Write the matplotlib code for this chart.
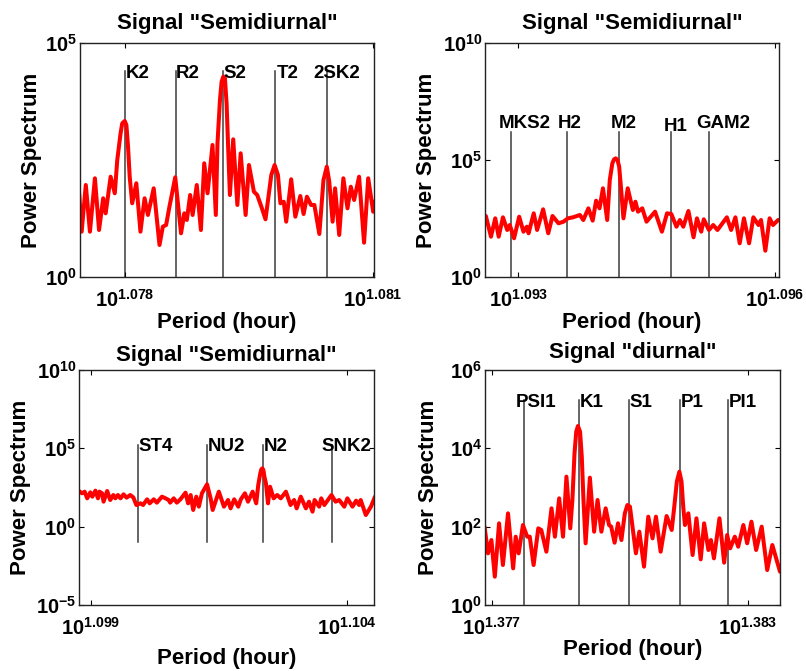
import numpy as np
import matplotlib
matplotlib.use("Agg")
import matplotlib.pyplot as plt
from matplotlib.ticker import NullLocator

# ---------------- data (log10 of period in hours, log10 of power) ----------------
# Panel 1: semidiurnal (K2 ... 2SK2)
p1_logper = [1.07745, 1.07748, 1.07753, 1.07758, 1.07764, 1.07769, 1.07774, 1.07777,
             1.07783, 1.07788, 1.07791, 1.07795, 1.07797, 1.07800, 1.07802, 1.07804,
             1.07806, 1.07809, 1.07814, 1.07819, 1.07824, 1.07828,
             1.07835, 1.07842, 1.07846, 1.07850, 1.07854, 1.07861, 1.07868, 1.07872,
             1.07875, 1.07879, 1.07882, 1.07887, 1.07892, 1.07896, 1.07900, 1.07906,
             1.07910, 1.07912, 1.07915, 1.07917, 1.07919, 1.07921, 1.07923, 1.07925,
             1.07927, 1.07931, 1.07936, 1.07940, 1.07946, 1.07950,
             1.07956, 1.07960, 1.07965, 1.07970, 1.07977, 1.07981, 1.07985, 1.07988,
             1.07992, 1.07995, 1.08001, 1.08006, 1.08012, 1.08016, 1.08020, 1.08025,
             1.08029, 1.08035, 1.08040, 1.08044, 1.08047, 1.08051, 1.08054, 1.08059,
             1.08064, 1.08069, 1.08073, 1.08077, 1.08083, 1.08089, 1.08094, 1.08100,
             1.08103]
p1_logpow = [1.789, 0.968, 1.966, 0.968, 2.109, 1.004, 1.682, 1.361,
             2.143, 1.789, 2.500, 3.070, 3.284, 3.334, 3.248, 2.785,
             2.144, 1.575, 2.002, 0.968, 1.682, 1.325,
             1.895, 0.684, 1.075, 1.111, 1.502, 2.130, 0.934, 1.361,
             1.218, 1.752, 1.325, 1.966, 1.004, 2.430, 1.789, 2.821,
             1.325, 2.856, 3.782, 4.174, 4.281, 4.245, 3.711, 2.714,
             1.752, 2.942, 1.539, 2.643, 1.325, 2.393,
             1.823, 1.752, 1.502, 1.233, 2.180, 2.393, 2.180, 1.575,
             1.609, 1.182, 2.088, 1.289, 1.731, 1.346, 1.716, 1.539,
             1.539, 0.919, 2.073, 2.357, 2.037, 1.182, 1.895, 0.898,
             2.109, 1.468, 1.930, 1.645, 2.143, 0.733, 2.109, 1.395,
             1.645]
p1_names = ["K2", "R2", "S2", "T2", "2SK2"]
p1_name_logper = [1.07800, 1.07862, 1.07919, 1.07982, 1.08044]

# Panel 2: semidiurnal (MKS2 ... GAM2)
p2_logper = [1.09262, 1.09268, 1.09273, 1.09277, 1.09282, 1.09287, 1.09290, 1.09295,
             1.09301, 1.09306, 1.09310, 1.09312, 1.09318, 1.09322, 1.09329, 1.09335,
             1.09340, 1.09347, 1.09353, 1.09358, 1.09364, 1.09372, 1.09376, 1.09382,
             1.09387, 1.09391, 1.09395, 1.09399, 1.09404, 1.09407, 1.09410, 1.09412,
             1.09414, 1.09416, 1.09418, 1.09420,
             1.09423, 1.09428, 1.09434, 1.09437, 1.09440, 1.09445, 1.09450, 1.09460,
             1.09468, 1.09474, 1.09479, 1.09485, 1.09489, 1.09493, 1.09499, 1.09505,
             1.09509, 1.09514, 1.09517, 1.09523, 1.09528, 1.09533, 1.09544, 1.09549,
             1.09554, 1.09559, 1.09564, 1.09570, 1.09575, 1.09581, 1.09584, 1.09589,
             1.09594, 1.09598, 1.09604]
p2_logpow = [2.607, 1.722, 2.508, 1.722, 2.551, 2.009, 2.222, 1.654,
             2.577, 1.936, 2.150, 1.868, 2.722, 2.009, 2.893, 1.868,
             2.607, 2.295, 2.365, 2.508, 2.551, 2.650, 2.436, 2.935,
             2.408, 3.262, 2.935, 3.790, 2.436, 4.145, 4.858, 5.028,
             5.071, 5.000, 4.715, 3.860,
             2.508, 3.790, 2.863, 3.218, 2.791, 2.935, 2.365, 2.791,
             1.936, 2.722, 2.692, 2.150, 2.436, 2.150, 2.821, 1.697,
             2.508, 1.936, 2.465, 2.009, 2.222, 2.009, 2.551, 2.009,
             2.551, 1.440, 2.508, 1.440, 2.551, 2.222, 2.436, 1.124,
             2.508, 2.222, 2.436]
p2_names = ["MKS2", "H2", "M2", "H1", "GAM2"]
p2_name_logper = [1.09292, 1.09357, 1.09418, 1.09479, 1.09523]

# Panel 3: semidiurnal (ST4 ... SNK2)
p3_logper = [1.09876, 1.09883, 1.09888, 1.09893, 1.09899, 1.09903, 1.09909, 1.09914,
             1.09917, 1.09922, 1.09925, 1.09932, 1.09938, 1.09944, 1.09948, 1.09953,
             1.09958, 1.09964, 1.09970, 1.09977, 1.09983, 1.09989, 1.09997, 1.10002,
             1.10010, 1.10015, 1.10023, 1.10029, 1.10039, 1.10046, 1.10052, 1.10055,
             1.10062, 1.10068, 1.10075, 1.10085, 1.10090, 1.10095, 1.10100, 1.10106,
             1.10111, 1.10117, 1.10127, 1.10134, 1.10138, 1.10150, 1.10160, 1.10168,
             1.10173, 1.10180, 1.10188, 1.10193, 1.10201, 1.10207, 1.10216, 1.10223,
             1.10227, 1.10231, 1.10233, 1.10235, 1.10237, 1.10239, 1.10242, 1.10246,
             1.10250, 1.10257, 1.10264, 1.10271,
             1.10281, 1.10290, 1.10297, 1.10302, 1.10310, 1.10320, 1.10326, 1.10333,
             1.10337, 1.10346, 1.10350, 1.10356, 1.10370, 1.10378, 1.10385, 1.10395,
             1.10401, 1.10411, 1.10418, 1.10424, 1.10427, 1.10437, 1.10447, 1.10455]
p3_logpow = [2.298, 2.128, 2.234, 1.808, 2.191, 1.915, 2.298, 1.808,
             2.234, 2.128, 1.596, 2.277, 1.702, 2.021, 1.808, 2.021,
             1.808, 2.064, 1.851, 2.021, 1.872, 1.383, 1.489, 1.383,
             1.745, 1.489, 1.745, 1.532, 1.915, 1.808, 1.702, 1.532,
             1.808, 1.532, 1.745, 2.170, 1.489, 2.021, 1.064, 1.915,
             1.277, 2.128, 2.702, 1.808, 1.064, 2.234, 1.277, 1.702,
             1.170, 1.745, 1.277, 1.745, 2.128, 1.596, 2.234, 1.489,
             2.660, 3.404, 3.660, 3.723, 3.617, 3.191, 2.766, 1.489,
             2.553, 1.808, 2.021, 1.808,
             2.234, 1.383, 1.702, 1.170, 1.915, 1.170, 1.596, 0.957,
             1.702, 1.277, 1.808, 1.383, 2.021, 1.596, 1.702, 1.277,
             1.808, 1.277, 1.660, 1.383, 1.702, 0.745, 1.277, 1.915]
p3_names = ["ST4", "NU2", "N2", "SNK2"]
p3_name_logper = [1.09992, 1.10126, 1.10237, 1.10371]

# Panel 4: diurnal (PSI1 ... PI1)
p4_logper = [1.37683, 1.37691, 1.37699, 1.37707, 1.37717, 1.37726, 1.37738, 1.37750,
             1.37756, 1.37763, 1.37773, 1.37783, 1.37789, 1.37798, 1.37809, 1.37816,
             1.37828, 1.37840, 1.37848, 1.37858, 1.37867, 1.37875, 1.37884, 1.37889,
             1.37894, 1.37898, 1.37902, 1.37907, 1.37911, 1.37915,
             1.37920, 1.37930, 1.37940, 1.37948, 1.37957, 1.37967, 1.37975, 1.37980,
             1.37988, 1.37996, 1.38004, 1.38012, 1.38018, 1.38024, 1.38030, 1.38038,
             1.38046, 1.38057, 1.38067, 1.38077, 1.38085, 1.38096, 1.38110, 1.38122,
             1.38128, 1.38134, 1.38140, 1.38145, 1.38149, 1.38153,
             1.38161, 1.38171, 1.38180, 1.38190, 1.38198, 1.38208, 1.38214, 1.38221,
             1.38234, 1.38245, 1.38252, 1.38259, 1.38270, 1.38278, 1.38290, 1.38299,
             1.38309, 1.38320, 1.38333, 1.38346, 1.38358, 1.38376]
p4_logpow = [2.000, 1.319, 1.659, 0.723, 2.085, 1.021, 2.340, 0.936,
             1.744, 1.319, 2.042, 1.744, 1.744, 1.021, 1.957, 1.915,
             1.361, 2.468, 1.744, 2.723, 1.744, 3.277, 1.957, 2.681,
             3.872, 4.425, 4.570, 4.425, 3.787, 2.681,
             1.574, 3.251, 1.872, 2.681, 1.872, 2.468, 2.042, 2.000,
             1.591, 2.085, 1.659, 2.340, 2.553, 2.511, 2.000, 1.319,
             1.872, 0.979, 2.255, 1.702, 2.255, 1.361, 2.272, 1.915,
             2.511, 3.149, 3.404, 3.149, 2.511, 2.042,
             2.340, 1.276, 2.213, 1.166, 2.085, 1.404, 1.659, 1.191,
             2.213, 1.081, 1.787, 1.447, 1.744, 1.489, 2.042, 1.574,
             2.127, 1.404, 2.000, 0.893, 1.532, 0.851]
p4_names = ["PSI1", "K1", "S1", "P1", "PI1"]
p4_name_logper = [1.37776, 1.37904, 1.38021, 1.38141, 1.38255]

# ---------------- style ----------------
plt.rcParams["font.family"] = ["Liberation Sans", "DejaVu Sans"]
plt.rcParams["font.weight"] = "bold"
plt.rcParams["mathtext.fontset"] = "custom"
plt.rcParams["mathtext.rm"] = "Liberation Sans:bold"
plt.rcParams["mathtext.bf"] = "Liberation Sans:bold"
plt.rcParams["mathtext.it"] = "Liberation Sans:bold"
plt.rcParams["mathtext.default"] = "bf"

fig = plt.figure(figsize=(8.06, 6.71), dpi=100)
W, H = 806.0, 671.0


def make_ax(l, r, t, b):
    return fig.add_axes([l / W, 1 - b / H, (r - l) / W, (b - t) / H])


panels = [
    dict(box=(80, 374, 43, 277), logper=p1_logper, logpow=p1_logpow,
         names=p1_names, name_logper=p1_name_logper,
         xlim=(1.07746, 1.08101), xt=(1.078, 1.081), xtl=("1.078", "1.081"),
         ylim=(0, 5), yt=(0, 5), line=(0, 4.4),
         offs=[(1, -7), (0, -7), (0, -7), (1, -7), (-13, -7)],
         title='Signal "Semidiurnal"', tpad=10.0, ylx=-0.129, xly=-0.218),
    dict(box=(485, 779, 43, 277), logper=p2_logper, logpow=p2_logpow,
         names=p2_names, name_logper=p2_name_logper,
         xlim=(1.09261, 1.09605), xt=(1.093, 1.096), xtl=("1.093", "1.096"),
         ylim=(0, 10), yt=(0, 5, 10), line=(0, 6.2),
         offs=[(-13, 4), (-9, 4), (-8, 4), (-8, 1), (-13, 4)],
         title='Signal "Semidiurnal"', tpad=10.0, ylx=-0.164, xly=-0.218),
    dict(box=(79, 374, 370, 605), logper=p3_logper, logpow=p3_logpow,
         names=p3_names, name_logper=p3_name_logper,
         xlim=(1.09877, 1.10453), xt=(1.099, 1.104), xtl=("1.099", "1.104"),
         ylim=(-5, 10), yt=(-5, 0, 5, 10), line=(-1, 5.2),
         offs=[(1, -6), (1, -6), (0, -6), (-11, -6)],
         title='Signal "Semidiurnal"', tpad=6.5, ylx=-0.163, xly=-0.251),
    dict(box=(485, 780, 370, 605), logper=p4_logper, logpow=p4_logpow,
         names=p4_names, name_logper=p4_name_logper,
         xlim=(1.37684, 1.38376), xt=(1.377, 1.383), xtl=("1.377", "1.383"),
         ylim=(0, 6), yt=(0, 2, 4, 6), line=(0, 5.23),
         offs=[(-8, -7), (1, -7), (1, -7), (1, -7), (0, -7)],
         title='Signal "diurnal"', tpad=8.3, ylx=-0.157, xly=-0.213),
]

for p in panels:
    ax = make_ax(*p["box"])
    ax.set_xscale("log")
    ax.set_yscale("log")
    per = 10.0 ** np.array(p["logper"])
    pw = 10.0 ** np.array(p["logpow"])

    # constituent marker lines
    ylo, yhi = 10.0 ** p["line"][0], 10.0 ** p["line"][1]
    for name, lp, (dx, dy) in zip(p["names"], p["name_logper"], p["offs"]):
        x = 10.0 ** lp
        ax.plot([x, x], [ylo, yhi], color="#3c3c3c", lw=1.1, zorder=1)
        ax.annotate(name, xy=(x, yhi), xytext=(dx * 0.72, dy * 0.72),
                    textcoords="offset points", ha="left", va="baseline",
                    fontsize=13.5, fontweight="bold", color="black", zorder=3,
                    annotation_clip=False)

    ax.plot(per, pw, color="#ff0000", lw=2.9, zorder=2,
            solid_joinstyle="round", solid_capstyle="round")

    ax.set_xlim(10.0 ** p["xlim"][0], 10.0 ** p["xlim"][1])
    ax.set_ylim(10.0 ** p["ylim"][0], 10.0 ** p["ylim"][1])
    ax.set_xticks([10.0 ** v for v in p["xt"]],
                  [r"$10^{%s}$" % s for s in p["xtl"]])
    ax.set_yticks([10.0 ** v for v in p["yt"]],
                  [r"$10^{%d}$" % v for v in p["yt"]])
    ax.xaxis.set_minor_locator(NullLocator())
    ax.yaxis.set_minor_locator(NullLocator())
    ax.tick_params(which="both", direction="in", top=True, right=True,
                   length=3.5, width=0.8, labelsize=14.5)
    ax.tick_params(axis="x", pad=8.5)
    ax.tick_params(axis="y", pad=2)
    for sp in ax.spines.values():
        sp.set_linewidth(1.0)
        sp.set_color("#222222")

    ax.set_title(p["title"], fontsize=16, fontweight="bold", pad=p["tpad"])
    ax.set_ylabel("Power Spectrum", fontsize=16, fontweight="bold")
    ax.yaxis.set_label_coords(p["ylx"], 0.5)
    ax.set_xlabel("Period (hour)", fontsize=16, fontweight="bold")
    ax.xaxis.set_label_coords(0.5, p["xly"])
    ax.xaxis.label.set_va("baseline")

fig.savefig("out.png", dpi=100)
